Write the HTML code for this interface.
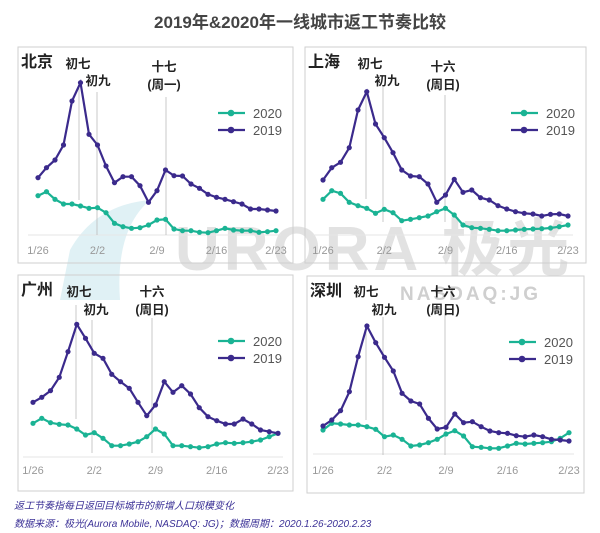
<!DOCTYPE html>
<html><head><meta charset="utf-8"><style>
html,body{margin:0;padding:0;background:#fff;}
svg{display:block;font-family:"Liberation Sans","Noto Sans CJK SC",sans-serif;}
</style></head><body>
<svg id="s" width="600" height="533" viewBox="0 0 600 533">
<rect width="600" height="533" fill="#fff"/>
<text x="300" y="28" text-anchor="middle" font-size="17" font-weight="bold" fill="#444">2019年&amp;2020年一线城市返工节奏比较</text>
<path d="M70 250 Q95 205 150 200 Q115 230 120 300 L60 300 Z" fill="#d8eef3" opacity="0.8"/>
<text x="175" y="270" font-size="62" font-weight="bold" fill="#d9d9d9" opacity="0.75" letter-spacing="4">URORA 极光</text>
<text x="400" y="300" font-size="19" font-weight="bold" fill="#cfcfcf" letter-spacing="3">NASDAQ:JG</text>
<g id="g"></g>
<text x="14" y="509" font-size="10" font-style="italic" fill="#3c3297">返工节奏指每日返回目标城市的新增人口规模变化</text>
<text x="14" y="527" font-size="10" font-style="italic" fill="#3c3297">数据来源：极光(Aurora Mobile, NASDAQ: JG)；数据周期：2020.1.26-2020.2.23</text>
</svg>
<script>
var NS="http://www.w3.org/2000/svg",g=document.getElementById('g');
function el(t,a,txt){var e=document.createElementNS(NS,t);for(var k in a)e.setAttribute(k,a[k]);if(txt)e.textContent=txt;g.appendChild(e);return e;}
var P=[
{fx:18,fy:47,fw:275,fh:216,x0:38,x1:276,ax:235,ly:254,city:"北京",
 a:[413,383,360,315,183,128,283,315,378,428,410,410,437,487,452,390,407,408,432,445,463,472,478,485,492,507,507,510,513].map(v=>v/3+40),
 b:[467,455,478,492,492,498,505,503,518,550,560,565,563,555,540,538,567,572,572,577,578,572,565,570,572,572,577,575,572].map(v=>v/3+40),
 vl:[[79,82,200],[97,92,235],[166,97,235]],
 lab:[[78,68,"初七"],[98,85,"初九"],[164,71,"十七"],[164,89,"(周一)"]]},
{fx:305,fy:47,fw:281,fh:216,x0:323,x1:568,ax:235,ly:254,city:"上海",
 a:[420,383,367,323,210,155,252,293,338,390,408,410,432,487,465,418,457,450,473,480,497,507,515,520,522,528,523,522,528].map(v=>v/3+40),
 b:[478,452,460,487,497,505,520,508,518,542,538,533,528,515,505,525,555,563,565,568,572,572,570,568,567,566,564,560,555].map(v=>v/3+40),
 vl:[[366,90,199],[383,85,222],[445,95,222]],
 lab:[[370,68,"初七"],[387,85,"初九"],[443,71,"十六"],[443,89,"(周日)"]]},
{fx:18,fy:275,fw:275,fh:216,x0:33,x1:278,ax:457,ly:474,city:"广州",
 a:[397,382,362,322,245,163,205,250,265,313,335,355,397,437,405,335,367,347,372,413,440,452,462,462,447,462,480,485,490].map(v=>v/3+270),
 b:[460,445,458,463,465,477,495,488,505,527,527,522,515,500,477,492,527,527,530,533,530,522,518,520,518,515,510,500,490].map(v=>v/3+270),
 vl:[[76,305,419],[92,320,453],[152,318,453]],
 lab:[[79,296,"初七"],[96,314,"初九"],[152,296,"十六"],[152,314,"(周日)"]]},
{fx:307,fy:276,fw:277,fh:217,x0:323,x1:569,ax:454,ly:474,city:"深圳",
 a:[468,450,422,365,260,168,218,262,303,370,393,402,445,477,472,432,458,455,470,483,488,490,497,500,495,500,508,510,513].map(v=>v/3+270),
 b:[480,460,462,465,465,470,478,500,495,508,528,525,518,508,492,482,498,530,532,535,535,528,520,522,520,518,515,505,488].map(v=>v/3+270),
 vl:[[366,327,420],[383,317,455],[445,313,455]],
 lab:[[366,296,"初七"],[384,314,"初九"],[443,296,"十六"],[443,314,"(周日)"]]}
];
P.forEach(function(p){
 el('rect',{x:p.fx,y:p.fy,width:p.fw,height:p.fh,fill:'none',stroke:'#cfcfcf','stroke-width':1});
 el('line',{x1:p.x0-10,x2:p.x1+5,y1:p.ax,y2:p.ax,stroke:'#e6e6e6'});
 el('text',{x:p.fx+3,y:p.fy+20,'font-size':16,'font-weight':'bold',fill:'#222'},p.city);
 p.vl.forEach(v=>el('line',{x1:v[0],x2:v[0],y1:v[1],y2:v[2],stroke:'#bbb','stroke-width':0.8}));
 p.lab.forEach(l=>el('text',{x:l[0],y:l[1],'font-size':12.5,'font-weight':'bold','text-anchor':'middle',fill:'#222'},l[2]));
 var d=(p.x1-p.x0)/28;
 ["1/26","2/2","2/9","2/16","2/23"].forEach((t,i)=>el('text',{x:p.x0+i*7*d,y:p.ly,'font-size':11,'text-anchor':'middle',fill:'#999'},t));
 [[p.b,'#1ab394'],[p.a,'#3b2a8c']].forEach(function(s){
  var pts=s[0].map((y,i)=>(p.x0+i*d).toFixed(1)+','+y.toFixed(1)).join(' ');
  el('polyline',{points:pts,fill:'none',stroke:s[1],'stroke-width':2.2});
  s[0].forEach((y,i)=>el('circle',{cx:p.x0+i*d,cy:y,r:2.6,fill:s[1]}));
 });
 var lx=p.fx+p.fw-75, ly=p.fy+66;
 [['#1ab394','2020',0],['#3b2a8c','2019',17]].forEach(function(q){
  el('line',{x1:lx,x2:lx+27,y1:ly+q[2],y2:ly+q[2],stroke:q[0],'stroke-width':2.2});
  el('circle',{cx:lx+13,cy:ly+q[2],r:3.3,fill:q[0]});
  el('text',{x:lx+35,y:ly+q[2]+5,'font-size':13,fill:'#555'},q[1]);
 });
});
</script>
</body></html>
